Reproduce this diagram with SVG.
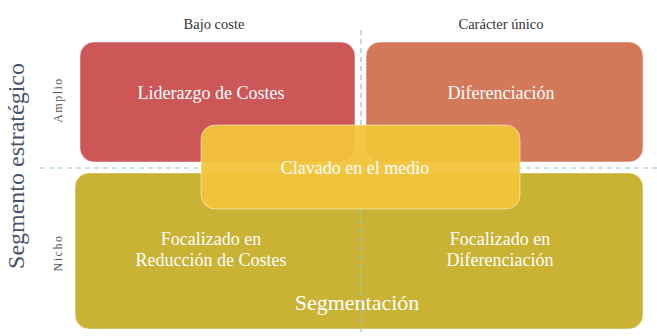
<svg xmlns="http://www.w3.org/2000/svg" width="657" height="336" viewBox="0 0 657 336">
<style>
.box{stroke:#ffffff;stroke-opacity:0.5;stroke-width:1}
.t{font-family:"Liberation Serif","Times New Roman",serif;fill:#ffffff;text-anchor:middle;font-size:18px}
.big{font-size:22px}
.ax{font-family:"Liberation Serif","Times New Roman",serif;fill:#333333;text-anchor:middle;font-size:14.5px}
.sm{font-family:"Liberation Serif","Times New Roman",serif;fill:#555555;text-anchor:middle;font-size:12px;letter-spacing:1.5px}
.guide{stroke:#8fc3dc;stroke-width:1.2;stroke-dasharray:5,4;fill:none}
</style>
<rect width="657" height="336" fill="#ffffff"/>
<text class="ax" x="214" y="29">Bajo coste</text>
<text class="ax" x="501" y="29">Carácter único</text>
<text x="24" y="166" transform="rotate(-90 24 166)" style="font-family:'Liberation Serif','Times New Roman',serif;font-size:24px;fill:#44556a;text-anchor:middle">Segmento estratégico</text>
<text class="sm" x="62" y="100" transform="rotate(-90 62 100)">Amplio</text>
<text class="sm" x="62" y="253" transform="rotate(-90 62 253)">Nicho</text>
<g id="segmentacion">
<rect class="box" x="75" y="173" width="568" height="156" rx="14" fill="#c9b234"/>
<text class="t" x="211" y="245">Focalizado en</text>
<text class="t" x="211" y="266">Reducción de Costes</text>
<text class="t" x="500" y="245">Focalizado en</text>
<text class="t" x="500" y="266">Diferenciación</text>
<text class="t big" x="357" y="310">Segmentación</text>
</g>
<g id="liderazgo">
<rect class="box" x="80" y="42" width="275" height="120" rx="14" fill="#cd5757"/>
<text class="t" x="211" y="99">Liderazgo de Costes</text>
</g>
<g id="diferenciacion">
<rect class="box" x="366" y="42" width="277" height="120" rx="14" fill="#d4785a"/>
<text class="t" x="501" y="99">Diferenciación</text>
</g>
<g id="connectors">
<line class="guide" x1="361" y1="30" x2="361" y2="336"/>
<line class="guide" x1="40" y1="168" x2="657" y2="168"/>
</g>
<g id="clavado">
<rect class="box" x="201" y="125" width="319" height="84" rx="14" fill="#f2c43a" fill-opacity="0.95"/>
<text class="t" x="355" y="174">Clavado en el medio</text>
</g>
</svg>
